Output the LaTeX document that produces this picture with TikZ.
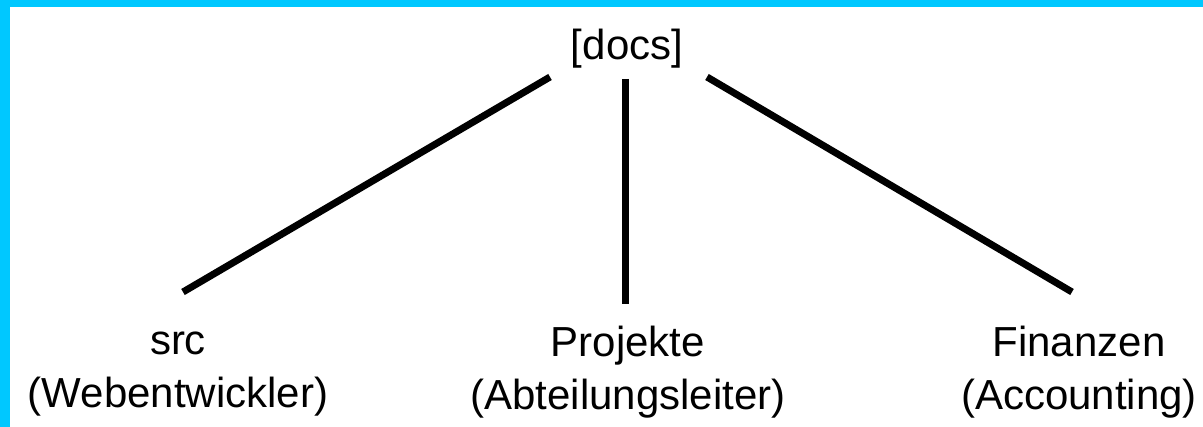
\documentclass[tikz,border=0pt]{standalone}
\usepackage{fontspec}
\setmainfont{Liberation Sans}
\definecolor{framecyan}{RGB}{0,200,255}
\tikzset{
  lbl/.style={font=\fontsize{42}{53}\selectfont, align=center, anchor=base, inner sep=0pt},
  edge/.style={line width=7pt, black}
}
\begin{document}
\begin{tikzpicture}[x=1pt,y=-1pt]
\useasboundingbox (0,0) rectangle (1203,427);
\fill[framecyan] (0,0) rectangle (1203,427);
\fill[white] (10,7) rectangle (1203,427);
\node[lbl] (docs) at (627,60) {[docs]};
\node[lbl] (src) at (178,408) {src\\(Webentwickler)};
\node[lbl] (proj) at (628,410) {Projekte\\(Abteilungsleiter)};
\node[lbl] (fin) at (1079,410) {Finanzen\\(Accounting)};
\coordinate (dL) at (550,77);
\coordinate (dM) at (625,79);
\coordinate (dR) at (707,77);
\coordinate (sT) at (183,292);
\coordinate (pT) at (625,304);
\coordinate (fT) at (1072,292);
\draw[edge] (dL) -- (sT);
\draw[edge] (dM) -- (pT);
\draw[edge] (dR) -- (fT);
\end{tikzpicture}
\end{document}
